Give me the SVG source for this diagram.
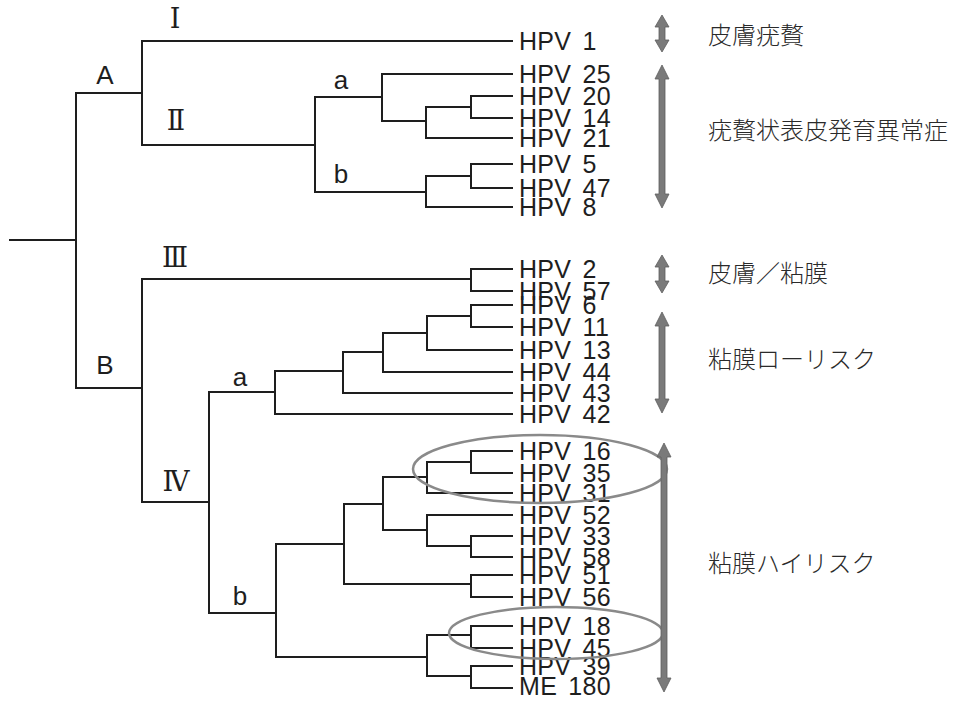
<svg xmlns="http://www.w3.org/2000/svg" width="957" height="701" viewBox="0 0 957 701">
<defs>
<style>
.br{fill:none;stroke:#1e1e1e;stroke-width:2;stroke-linecap:square}
.leaf{font-family:"Liberation Sans",Arial,sans-serif;font-size:25px;fill:#1e1e1e;word-spacing:4px;letter-spacing:0.3px}
.cl{font-family:"Liberation Sans",Arial,sans-serif;font-size:26px;fill:#1e1e1e;text-anchor:middle}
.rn{font-family:"DejaVu Serif","Noto Sans CJK JP",serif;font-size:27px;fill:#1e1e1e;text-anchor:middle}
.cat{font-family:"Noto Sans CJK JP","Noto Sans CJK SC",sans-serif;font-size:24px;fill:#2a2a2a;font-weight:300}
.arr{fill:#7a7a7a;stroke:#5e5e5e;stroke-width:0.8}
.ell{fill:none;stroke:#8a8a8a;stroke-width:2.5}
</style>
</defs>
<rect width="957" height="701" fill="#ffffff"/>
<g id="connectors">
<path class="br" d="M10,240 H76 M76,93 V388 M76,93 H142 M76,388 H142"/>
<path class="br" d="M142,41 V145 M142,41 H512 M142,145 H315"/>
<path class="br" d="M315,97 V192 M315,97 H382 M315,192 H426"/>
<path class="br" d="M382,74 V121 M382,74 H512 M382,121 H426 M426,107 V138 M426,138 H512 M426,107 H471 M471,96 V118 M471,96 H512 M471,118 H512"/>
<path class="br" d="M426,176 V207 M426,207 H512 M426,176 H471 M471,164 V188 M471,164 H512 M471,188 H512"/>
<path class="br" d="M142,279 V502 M142,279 H471 M471,269 V291 M471,269 H512 M471,291 H512"/>
<path class="br" d="M142,502 H209 M209,392 V613 M209,392 H275 M209,613 H276"/>
<path class="br" d="M275,371 V414 M275,414 H512 M275,371 H343 M343,352 V393 M343,393 H512 M343,352 H383 M383,333 V372 M383,372 H512 M383,333 H427 M427,316 V350 M427,350 H512 M427,316 H471 M471,305 V327 M471,305 H512 M471,327 H512"/>
<path class="br" d="M276,544 V657 M276,544 H344 M344,504 V584 M344,504 H383 M383,477 V530 M383,477 H427 M427,462 V493 M427,493 H512 M427,462 H471 M471,451 V473 M471,451 H512 M471,473 H512"/>
<path class="br" d="M383,530 H427 M427,515 V546 M427,515 H512 M427,546 H471 M471,536 V557 M471,536 H512 M471,557 H512"/>
<path class="br" d="M344,584 H471 M471,575 V597 M471,575 H512 M471,597 H512"/>
<path class="br" d="M276,657 H427 M427,635 V676 M427,635 H471 M471,626 V648 M471,626 H512 M471,648 H512 M427,676 H471 M471,666 V688 M471,666 H512 M471,688 H512"/>
</g>
<g id="clade-labels">
<text class="cl" x="105" y="84">A</text>
<text class="cl" x="105" y="374">B</text>
<text class="rn" x="175" y="28">Ⅰ</text>
<text class="rn" x="176" y="130">Ⅱ</text>
<text class="rn" x="175" y="267">Ⅲ</text>
<text class="rn" x="176" y="491">Ⅳ</text>
<text class="cl" x="341" y="89">a</text>
<text class="cl" x="341" y="183">b</text>
<text class="cl" x="240" y="386">a</text>
<text class="cl" x="240" y="605">b</text>
</g>
<g id="leaves">
<g id="hpv1"><text class="leaf" x="519" y="50">HPV 1</text></g>
<g id="hpv25"><text class="leaf" x="519" y="83">HPV 25</text></g>
<g id="hpv20"><text class="leaf" x="519" y="105">HPV 20</text></g>
<g id="hpv14"><text class="leaf" x="519" y="127">HPV 14</text></g>
<g id="hpv21"><text class="leaf" x="519" y="147">HPV 21</text></g>
<g id="hpv5"><text class="leaf" x="519" y="173">HPV 5</text></g>
<g id="hpv47"><text class="leaf" x="519" y="197">HPV 47</text></g>
<g id="hpv8"><text class="leaf" x="519" y="216">HPV 8</text></g>
<g id="hpv2"><text class="leaf" x="519" y="278">HPV 2</text></g>
<g id="hpv57"><text class="leaf" x="519" y="300">HPV 57</text></g>
<g id="hpv6"><text class="leaf" x="519" y="314">HPV 6</text></g>
<g id="hpv11"><text class="leaf" x="519" y="336">HPV 11</text></g>
<g id="hpv13"><text class="leaf" x="519" y="359">HPV 13</text></g>
<g id="hpv44"><text class="leaf" x="519" y="381">HPV 44</text></g>
<g id="hpv43"><text class="leaf" x="519" y="402">HPV 43</text></g>
<g id="hpv42"><text class="leaf" x="519" y="423">HPV 42</text></g>
<g id="hpv16"><text class="leaf" x="519" y="460">HPV 16</text></g>
<g id="hpv35"><text class="leaf" x="519" y="482">HPV 35</text></g>
<g id="hpv31"><text class="leaf" x="519" y="502">HPV 31</text></g>
<g id="hpv52"><text class="leaf" x="519" y="524">HPV 52</text></g>
<g id="hpv33"><text class="leaf" x="519" y="545">HPV 33</text></g>
<g id="hpv58"><text class="leaf" x="519" y="566">HPV 58</text></g>
<g id="hpv51"><text class="leaf" x="519" y="584">HPV 51</text></g>
<g id="hpv56"><text class="leaf" x="519" y="606">HPV 56</text></g>
<g id="hpv18"><text class="leaf" x="519" y="635">HPV 18</text></g>
<g id="hpv45"><text class="leaf" x="519" y="657">HPV 45</text></g>
<g id="hpv39"><text class="leaf" x="519" y="675">HPV 39</text></g>
<g id="me180"><text class="leaf" x="519" y="695">ME 180</text></g>
</g>
<g id="highlights">
<ellipse class="ell" cx="540" cy="469" rx="127" ry="34"/>
<ellipse class="ell" cx="556" cy="633" rx="107" ry="26"/>
</g>
<g id="categories">
<g id="cat-skin-wart">
<polygon class="arr" points="662,15 669,27 665,27 665,40 669,40 662,52 655,40 659,40 659,27 655,27"/>
<text class="cat" x="708" y="44">皮膚疣贅</text>
</g>
<g id="cat-ev">
<polygon class="arr" points="662,65 669,79 665,79 665,194 669,194 662,208 655,194 659,194 659,79 655,79"/>
<text class="cat" x="708" y="139">疣贅状表皮発育異常症</text>
</g>
<g id="cat-skin-mucosa">
<polygon class="arr" points="662,255 669,267 665,267 665,281 669,281 662,293 655,281 659,281 659,267 655,267"/>
<text class="cat" x="708" y="282">皮膚／粘膜</text>
</g>
<g id="cat-low">
<polygon class="arr" points="662,312 669,326 665,326 665,399 669,399 662,413 655,399 659,399 659,326 655,326"/>
<text class="cat" x="708" y="368">粘膜ローリスク</text>
</g>
<g id="cat-high">
<polygon class="arr" points="664,443 671,457 667,457 667,678 671,678 664,692 657,678 661,678 661,457 657,457"/>
<text class="cat" x="708" y="572">粘膜ハイリスク</text>
</g>
</g>
</svg>
